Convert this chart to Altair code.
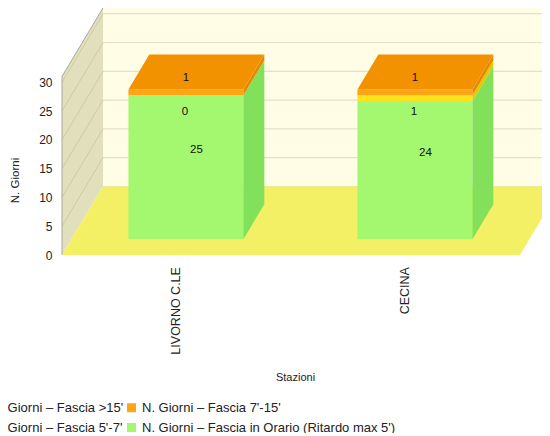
import altair as alt
import pandas as pd

# ---------------- data ----------------
stations = ["LIVORNO C.LE", "CECINA"]
series = [
    "N. Giorni – Fascia >15'",
    "N. Giorni – Fascia 7'-15'",
    "N. Giorni – Fascia 5'-7'",
    "N. Giorni – Fascia in Orario (Ritardo max 5')",
]
gt15 = [0, 0]
f7_15 = [1, 1]
f5_7 = [0, 1]
in_orario = [25, 24]
y_ticks = [0, 5, 10, 15, 20, 25, 30]

# ---------------- style ----------------
front_colors = ["#E2001A", "#FFA414", "#FFE11C", "#A4F870"]
side_colors = ["#B80015", "#E48A00", "#E6C800", "#82E05A"]
top_colors = ["#C8001A", "#F39200", "#F0D000", "#90EC60"]
FONT = "Liberation Sans"

W, H = 480, 247          # plot area (px)
K = 5.76                 # px per unit
YMAX = H / K
DX = 41                  # full depth, x (px)
DV = 68.5 / K            # full depth, y (units)
FLOOR_W = 458
BAND = FLOOR_W / len(stations)
BAR_W = 115
BD0 = 0.23               # depth of bar front
BD = 0.51                # bar depth
WALL = 31

vals = [gt15, f7_15, f5_7, in_orario]
stack_order = [3, 2, 1, 0]

seg_rows, side_rows, top_rows, lab_rows = [], [], [], []
for i, st in enumerate(stations):
    c = BAND * (i + 0.5)
    xl = c - BAR_W / 2 + BD0 * DX
    xr = c + BAR_W / 2 + BD0 * DX
    base = 0
    top_idx = None
    for s in stack_order:
        v = vals[s][i]
        y0 = base + BD0 * DV
        y1 = base + v + BD0 * DV
        seg_rows.append(dict(station=st, serie=series[s], xl=xl, xr=xr, y0=y0, y1=y1))
        if v > 0:
            key = f"{i}-{s}"
            side_rows.append(dict(key=key, u=xr, lo=y0, hi=y1, col=side_colors[s]))
            side_rows.append(dict(key=key, u=xr + BD * DX, lo=y0 + BD * DV, hi=y1 + BD * DV, col=side_colors[s]))
            top_idx = s
        fc = c + BD0 * DX
        mid = (base + base + v) / 2
        if s == 3:
            lab_rows.append(dict(kind="g", u=fc + BD / 2 * DX, v=mid + (BD0 + BD / 2) * DV, t=str(v)))
        elif s == 1:
            lab_rows.append(dict(kind="o", u=fc, v=mid + (BD0 + BD / 2) * DV, t=str(v)))
        elif s == 2:
            lab_rows.append(dict(kind="y", u=fc - 1, v=base + v + BD0 * DV, t=str(v)))
        base += v
    tf = base + BD0 * DV
    top_rows.append(dict(key=str(i), v=tf, a=xl, b=xr, col=top_colors[top_idx]))
    top_rows.append(dict(key=str(i), v=tf + BD * DV, a=xl + BD * DX, b=xr + BD * DX, col=top_colors[top_idx]))

seg = pd.DataFrame(seg_rows)
side = pd.DataFrame(side_rows)
topf = pd.DataFrame(top_rows)
labs = pd.DataFrame(lab_rows)

st_df = pd.DataFrame(dict(station=stations, u=[BAND * (i + 0.5) - 1 for i in range(len(stations))], v=[-2.1] * len(stations)))
back_df = pd.DataFrame(dict(x=[DX], x2=[W], y=[DV], y2=[YMAX]))
grid_df = pd.DataFrame(dict(t=y_ticks))
grid_df["yb"] = grid_df["t"] + DV
grid_df["x"] = DX
grid_df["x2"] = W
grid_df["x0"] = 0
lw_df = pd.DataFrame(dict(u=[0, DX], lo=[0, DV], hi=[WALL, DV + WALL]))
edge_df = pd.DataFrame(dict(x=[0, 0], x2=[0, DX], y=[0, WALL], y2=[WALL, DV + WALL]))
floor_df = pd.DataFrame(dict(v=[0, DV], a=[0, DX], b=[FLOOR_W, FLOOR_W + DX]))

xs = alt.Scale(domain=[0, W], nice=False, zero=False)
ys = alt.Scale(domain=[0, YMAX], nice=False, zero=False)


def X(f, **kw):
    return alt.X(f, type="quantitative", scale=xs, **kw)


def Y(f, **kw):
    return alt.Y(f, type="quantitative", scale=ys, **kw)


back = alt.Chart(back_df).mark_rect(fill="#FFFDE6").encode(
    x=alt.X("x:Q", scale=xs, axis=alt.Axis(
        title="Stazioni", labels=False, ticks=False, domain=False, grid=False,
        titleY=122, titleX=233, titleBaseline="middle", titleFont=FONT,
        titleFontSize=11, titleFontWeight="normal", titleColor="#222")),
    x2="x2:Q",
    y=alt.Y("y:Q", scale=ys, axis=alt.Axis(
        values=y_ticks, title="N. Giorni", labelPadding=10, ticks=False, domain=False,
        grid=False, labelFont=FONT, labelFontSize=12, labelColor="#222",
        titleFont=FONT, titleFontSize=11.5, titleFontWeight="normal", titleColor="#222",
        titleX=-47, titleY=172, titleBaseline="middle", titleAlign="center")),
    y2="y2:Q",
)

back_grid = alt.Chart(grid_df).mark_rule(color="#E4E0C6", strokeWidth=1.2).encode(
    x=X("x:Q"), x2="x2:Q", y=Y("yb:Q"))

left_wall = alt.Chart(lw_df).mark_area(color="#E2DFBC", orient="vertical").encode(
    x=X("u:Q"), y=Y("lo:Q"), y2="hi:Q")

left_grid = alt.Chart(grid_df[grid_df["t"] > 0]).mark_rule(color="#C9C5A2", strokeWidth=0.8).encode(
    x=X("x0:Q"), x2="x:Q", y=Y("t:Q"), y2="yb:Q")

edges = alt.Chart(edge_df).mark_rule(color="#A8A8A0", strokeWidth=1).encode(
    x=X("x:Q"), x2="x2:Q", y=Y("y:Q"), y2="y2:Q")

floor = alt.Chart(floor_df).mark_area(color="#F4F066", orient="horizontal", clip=True).encode(
    y=Y("v:Q"), x=X("a:Q"), x2="b:Q")

fronts = alt.Chart(seg).mark_rect().encode(
    x=X("xl:Q"), x2="xr:Q", y=Y("y0:Q"), y2="y1:Q",
    fill=alt.Fill("serie:N", scale=alt.Scale(domain=series, range=front_colors),
                  legend=alt.Legend(title=None, orient="none", legendX=-88, legendY=393,
                                    direction="horizontal",
                                    columns=2, symbolType="square", symbolSize=81,
                                    symbolStrokeWidth=0, labelFont=FONT, labelFontSize=13,
                                    labelColor="#222", labelLimit=500, rowPadding=6,
                                    columnPadding=1, padding=0, labelOffset=4)),
)

sides = alt.Chart(side).mark_area(orient="vertical").encode(
    x=X("u:Q"), y=Y("lo:Q"), y2="hi:Q", detail="key:N",
    fill=alt.Fill("col:N", scale=None))

tops = alt.Chart(topf).mark_area(orient="horizontal").encode(
    y=Y("v:Q"), x=X("a:Q"), x2="b:Q", detail="key:N",
    fill=alt.Fill("col:N", scale=None))


def lab_layer(kind, dy):
    return alt.Chart(labs[labs["kind"] == kind]).mark_text(
        font=FONT, fontSize=11.5, color="#111", dy=dy, baseline="middle", align="center"
    ).encode(x=X("u:Q"), y=Y("v:Q"), text="t:N")


st_labels = alt.Chart(st_df).mark_text(
    font=FONT, fontSize=12.5, color="#222", angle=270, align="right", baseline="middle"
).encode(x=X("u:Q"), y=Y("v:Q"), text="station:N")

chart = alt.layer(
    back, back_grid, left_wall, left_grid, floor, edges,
    fronts, sides, tops,
    lab_layer("g", 0), lab_layer("o", 3), lab_layer("y", 17),
    st_labels,
).properties(
    width=W, height=H,
    autosize=alt.AutoSizeParams(type="none"),
    padding={"left": 54, "top": 0, "right": 0, "bottom": 178},
    background="white",
).configure_view(stroke=None)

chart.save("out.html", embed_options={"renderer": "svg", "actions": False})
